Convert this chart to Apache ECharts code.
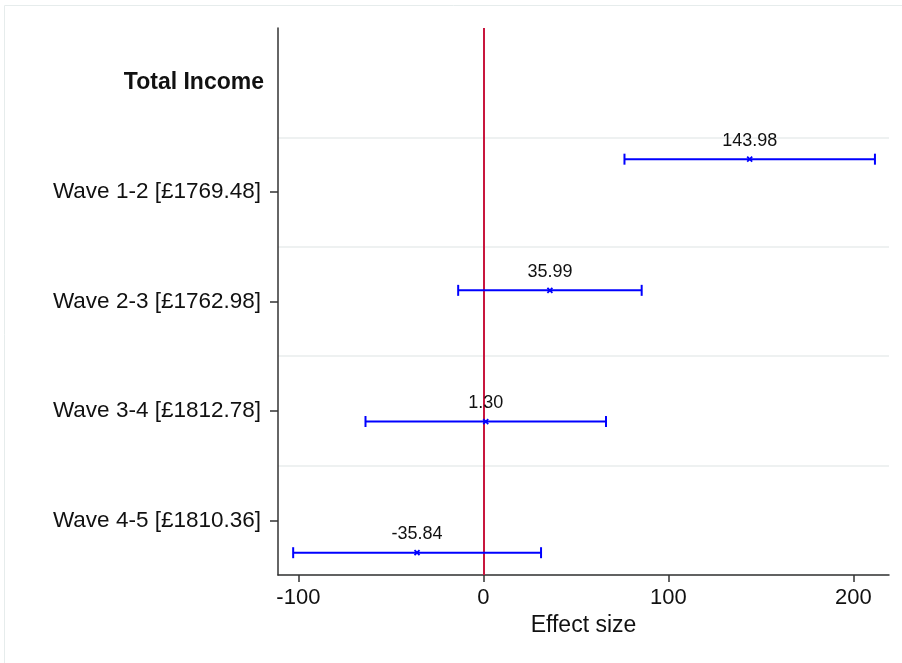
<!DOCTYPE html>
<html>
<head>
<meta charset="utf-8">
<title>Total Income effect sizes</title>
<script src="https://cdn.jsdelivr.net/npm/echarts@6/dist/echarts.min.js"></script>
<style>
  html, body { margin: 0; padding: 0; background: #fff; }
  #chart { width: 902px; height: 663px; }
</style>
</head>
<body>
<div id="chart"></div>
<script>
// 行标签（第一行是分组标题）
const rowLabels = ['Total Income', 'Wave 1-2 [£1769.48]', 'Wave 2-3 [£1762.98]', 'Wave 3-4 [£1812.78]', 'Wave 4-5 [£1810.36]']
// 估计值及置信区间
const estimates = [143.98, 35.99, 1.30, -35.84]
const lowerCI = [76.3, -13.6, -63.7, -102.8]
const upperCI = [211.7, 85.6, 66.3, 31.2]
const pointRows = [1, 2, 3, 4]
const xTicks = [-100, 0, 100, 200]

const chart = echarts.init(document.getElementById('chart'))

const ciData = estimates.map((v, i) => [v, pointRows[i], lowerCI[i], upperCI[i]])

function renderCI(params, api) {
  const y = api.value(1)
  const mid = api.coord([api.value(0), y])
  const lo = api.coord([api.value(2), y])
  const hi = api.coord([api.value(3), y])
  const blue = '#0000ff'
  const cap = 5.5
  const m = 2.5
  return {
    type: 'group',
    children: [
      { type: 'line', shape: { x1: lo[0], y1: lo[1], x2: hi[0], y2: hi[1] }, style: { stroke: blue, lineWidth: 2 } },
      { type: 'line', shape: { x1: lo[0], y1: lo[1] - cap, x2: lo[0], y2: lo[1] + cap }, style: { stroke: blue, lineWidth: 2 } },
      { type: 'line', shape: { x1: hi[0], y1: hi[1] - cap, x2: hi[0], y2: hi[1] + cap }, style: { stroke: blue, lineWidth: 2 } },
      // 小叉号标记
      { type: 'line', shape: { x1: mid[0] - m, y1: mid[1] - m, x2: mid[0] + m, y2: mid[1] + m }, style: { stroke: blue, lineWidth: 1.8 } },
      { type: 'line', shape: { x1: mid[0] - m, y1: mid[1] + m, x2: mid[0] + m, y2: mid[1] - m }, style: { stroke: blue, lineWidth: 1.8 } },
      {
        type: 'text',
        x: mid[0], y: mid[1] - 9.5,
        style: {
          text: api.value(0).toFixed(2),
          align: 'center', verticalAlign: 'bottom',
          font: '18px "Liberation Sans", Arial, sans-serif',
          fill: '#111'
        }
      }
    ]
  }
}

chart.setOption({
  animation: false,
  textStyle: { fontFamily: '"Liberation Sans", Arial, sans-serif' },
  graphic: [{
    type: 'rect',
    shape: { x: 4.5, y: 5.5, width: 920, height: 700 },
    style: { fill: 'none', stroke: '#e6ecec', lineWidth: 1 },
    silent: true
  }],
  grid: { left: 278, right: 13, top: 28, bottom: 88 },
  xAxis: {
    type: 'value',
    position: 'bottom',
    min: -111,
    max: 219.3,
    name: 'Effect size',
    nameLocation: 'middle',
    nameGap: 38,
    nameTextStyle: { fontSize: 23, color: '#111' },
    axisLine: { show: true, onZero: false, lineStyle: { color: '#333', width: 1.5 } },
    axisTick: { show: true, length: 7, customValues: xTicks, lineStyle: { color: '#333', width: 1.5 } },
    axisLabel: { fontSize: 22, color: '#111', margin: 12, customValues: xTicks },
    splitLine: { show: false }
  },
  yAxis: [
    {
      type: 'category',
      data: rowLabels,
      inverse: true,
      boundaryGap: true,
      axisLine: { show: true, onZero: false, lineStyle: { color: '#333', width: 1.5 } },
      axisTick: {
        show: true, alignWithLabel: true, length: 8,
        interval: (i) => i > 0,
        lineStyle: { color: '#333', width: 1.5 }
      },
      axisLabel: {
        margin: 14,
        color: '#111',
        fontSize: 22.5,
        formatter: (v, i) => (i === 0 ? '{b|' + v + '}' : '{n|' + v + '}'),
        rich: {
          b: { fontWeight: 'bold', fontSize: 23, color: '#111' },
          n: { fontSize: 22.5, color: '#111', padding: [0, 3, 0, 0] }
        }
      },
      splitLine: {
        show: true,
        interval: (i) => i > 0,
        lineStyle: { color: '#e8eded', width: 1.5 }
      }
    },
    {
      type: 'value',
      inverse: true,
      min: 0,
      max: 4.17,
      show: false
    }
  ],
  series: [{
    type: 'custom',
    yAxisIndex: 1,
    renderItem: renderCI,
    data: ciData,
    z: 5,
    markLine: {
      silent: true,
      symbol: 'none',
      label: { show: false },
      lineStyle: { color: '#c8163e', width: 2, type: 'solid' },
      data: [{ xAxis: 0 }]
    }
  }]
})
</script>
</body>
</html>
